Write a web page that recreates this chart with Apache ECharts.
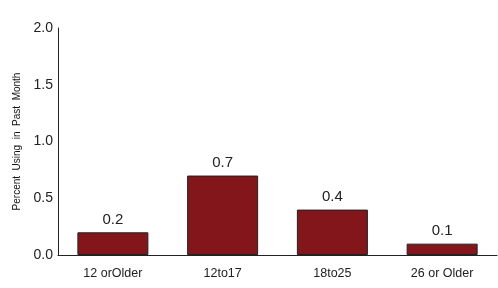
<!DOCTYPE html>
<html><head><meta charset="utf-8">
<script src="https://cdn.jsdelivr.net/npm/echarts@6/dist/echarts.min.js"></script>
<style>html,body{margin:0;padding:0;background:#fff}#c{width:498px;height:288px}</style>
</head><body><div id="c"></div>
<script>
var categories = ['12 orOlder', '12to17', '18to25', '26 or Older'];
var values = [0.2, 0.7, 0.4, 0.1];
var yTicks = [0.0, 0.5, 1.0, 1.5, 2.0];
var yName = 'Percent  Using  in  Past  Month';
var font = '"Liberation Sans", Arial, sans-serif';
var chart = echarts.init(document.getElementById('c'));
chart.setOption({
  animation: false,
  grid: {left: 58, right: 1, top: 28, bottom: 33},
  xAxis: {
    type: 'category', data: categories,
    axisLine: {lineStyle: {color: '#222', width: 1}},
    axisTick: {show: false},
    axisLabel: {color: '#222', fontFamily: font, fontSize: 12.5, margin: 12}
  },
  yAxis: {
    type: 'value', min: yTicks[0], max: yTicks[yTicks.length - 1], interval: 0.5,
    name: yName, nameLocation: 'middle', nameGap: 36,
    nameTextStyle: {color: '#111', fontFamily: font, fontSize: 10},
    axisLine: {show: true, lineStyle: {color: '#222', width: 1}},
    axisTick: {show: false},
    splitLine: {show: false},
    axisLabel: {color: '#222', fontFamily: font, fontSize: 14, margin: 5,
      formatter: function (v) { return v.toFixed(1); }}
  },
  series: [{
    type: 'bar', data: values, barWidth: 71,
    itemStyle: {color: '#82161a', borderColor: '#222', borderWidth: 1},
    label: {show: true, position: 'top', distance: 5, color: '#222', fontFamily: font, fontSize: 15,
      formatter: function (p) { return p.value.toFixed(1); }}
  }]
});
</script></body></html>
